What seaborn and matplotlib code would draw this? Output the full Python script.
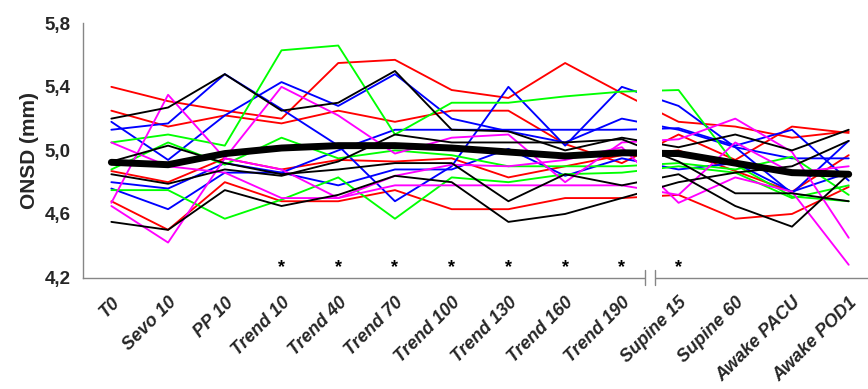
import matplotlib
matplotlib.use('Agg')
import matplotlib.pyplot as plt
import matplotlib.transforms as mtransforms
from matplotlib.patches import Rectangle
from matplotlib.ticker import FixedLocator, FuncFormatter
import seaborn as sns
import pandas as pd

# ── Data (ONSD in mm per time point) ─────────────────────────────────────────
CATEGORIES = ['T0', 'Sevo 10', 'PP 10', 'Trend 10', 'Trend 40', 'Trend 70',
              'Trend 100', 'Trend 130', 'Trend 160', 'Trend 190', 'Supine 15',
              'Supine 60', 'Awake PACU', 'Awake POD1']

RED_1 = [5.40, 5.31, 5.25, 5.20, 5.55, 5.57, 5.38, 5.33, 5.55, 5.36, 5.18, 5.15, 5.08, 5.12]
RED_2 = [5.25, 5.15, 5.22, 5.17, 5.25, 5.18, 5.25, 5.25, 5.04, 4.92, 5.10, 4.94, 5.15, 5.11]
RED_3 = [4.87, 4.80, 4.95, 4.88, 4.94, 4.93, 4.95, 4.83, 4.90, 4.97, 5.00, 4.87, 4.74, 4.97]
RED_4 = [4.68, 4.50, 4.80, 4.68, 4.68, 4.75, 4.63, 4.63, 4.70, 4.70, 4.72, 4.57, 4.60, 4.77]

BLUE_1 = [5.13, 5.17, 5.48, 5.26, 5.03, 4.68, 4.90, 5.40, 5.03, 5.40, 5.28, 5.02, 4.73, 5.06]
BLUE_2 = [5.18, 4.94, 5.22, 5.43, 5.28, 5.48, 5.20, 5.12, 5.05, 5.20, 5.13, 5.02, 4.95, 4.95]
BLUE_3 = [4.80, 4.76, 4.92, 4.86, 5.00, 5.13, 5.13, 5.13, 5.13, 5.13, 5.14, 5.03, 5.13, 4.81]
BLUE_4 = [4.76, 4.63, 4.86, 4.86, 4.78, 4.88, 4.88, 5.01, 4.84, 4.95, 4.88, 4.92, 4.74, 4.86]

GREEN_1 = [5.05, 5.10, 5.03, 5.63, 5.66, 5.10, 5.30, 5.30, 5.34, 5.37, 5.38, 4.91, 4.71, 4.68]
GREEN_2 = [4.88, 5.05, 4.91, 5.08, 4.95, 5.00, 4.97, 4.90, 4.90, 4.90, 4.92, 4.88, 4.96, 4.72]
GREEN_3 = [4.75, 4.75, 4.57, 4.69, 4.83, 4.57, 4.83, 4.80, 4.85, 4.86, 4.90, 4.86, 4.70, 4.78]

MAGENTA_1 = [4.67, 5.35, 4.95, 5.40, 5.22, 4.98, 5.08, 5.10, 4.80, 5.05, 5.07, 5.20, 4.99, 4.45]
MAGENTA_2 = [5.05, 4.90, 4.86, 4.70, 4.70, 4.84, 4.91, 4.90, 4.94, 5.02, 4.67, 4.83, 4.74, 4.28]
MAGENTA_3 = [4.65, 4.42, 4.95, 4.88, 4.70, 4.78, 4.78, 4.78, 4.78, 4.78, 4.72, 5.05, 4.86, 4.90]

BLACK_1 = [5.20, 5.27, 5.48, 5.25, 5.30, 5.50, 5.13, 5.12, 5.00, 5.08, 5.02, 5.10, 5.00, 5.13]
BLACK_2 = [4.85, 4.79, 4.88, 4.84, 4.93, 5.10, 5.05, 5.05, 5.05, 5.07, 4.93, 4.73, 4.73, 4.68]
BLACK_3 = [4.93, 5.03, 4.92, 4.85, 4.88, 4.92, 4.92, 4.68, 4.85, 4.78, 4.85, 4.65, 4.52, 4.85]
BLACK_4 = [4.55, 4.50, 4.75, 4.65, 4.72, 4.84, 4.80, 4.55, 4.60, 4.70, 4.80, 4.86, 4.90, 5.06]

MEAN = [4.925, 4.91, 4.98, 5.015, 5.03, 5.03, 5.015, 4.99, 4.965, 4.985, 4.98, 4.92, 4.86, 4.85]

# time points flagged with an asterisk
SIGNIFICANT = ['Trend 10', 'Trend 40', 'Trend 70', 'Trend 100', 'Trend 130',
               'Trend 160', 'Trend 190', 'Supine 15']

COLORS = {'red': '#FF0000', 'blue': '#0000FF', 'green': '#00FF00',
          'magenta': '#FF00FF', 'black': '#000000'}
AXIS_GREY = '#868686'

subjects = [
    ('red', RED_1), ('red', RED_2), ('red', RED_3), ('red', RED_4),
    ('blue', BLUE_1), ('blue', BLUE_2), ('blue', BLUE_3), ('blue', BLUE_4),
    ('green', GREEN_1), ('green', GREEN_2), ('green', GREEN_3),
    ('magenta', MAGENTA_1), ('magenta', MAGENTA_2), ('magenta', MAGENTA_3),
    ('black', BLACK_1), ('black', BLACK_2), ('black', BLACK_3), ('black', BLACK_4),
]

rows, palette = [], {}
for k, (col, vals) in enumerate(subjects):
    sid = f'S{k:02d}'
    palette[sid] = COLORS[col]
    for i, v in enumerate(vals):
        rows.append({'subject': sid, 'pos': i, 'onsd': v})
df = pd.DataFrame(rows)

sns.set_theme(style='white')
plt.rcParams['font.family'] = ['Liberation Sans', 'DejaVu Sans']

fig = plt.figure(figsize=(8.68, 3.89), dpi=100)
ax = fig.add_axes([83 / 868, 111.5 / 389, 785 / 868, 254.2 / 389])

sns.lineplot(data=df, x='pos', y='onsd', hue='subject', palette=palette,
             estimator=None, sort=False, legend=False, linewidth=1.35, ax=ax)
sns.lineplot(x=list(range(len(CATEGORIES))), y=MEAN, color='black',
             linewidth=5.0, solid_capstyle='round', ax=ax, zorder=3)

ax.set_xlim(-0.5, 13.34)
ax.set_ylim(4.2, 5.8)

# asterisks
for lab in SIGNIFICANT:
    ax.text(CATEGORIES.index(lab), 4.262, '*', ha='center', va='center',
            fontsize=13, fontweight='bold', color='black', zorder=6)

# axis break between Trend 190 and Supine 15
ax.axvspan(9.263, 9.703, ymin=0.006, ymax=1, facecolor='white',
           edgecolor='none', zorder=4)
trans = mtransforms.blended_transform_factory(ax.transData, ax.transAxes)
ax.add_patch(Rectangle((9.41, -0.02), 0.18, 0.04, transform=trans,
                       facecolor='white', edgecolor='none', clip_on=False, zorder=5))
for xb in (9.41, 9.59):
    ax.plot([xb, xb], [-0.03, 0.03], transform=trans, color=AXIS_GREY,
            linewidth=1.0, clip_on=False, zorder=6)

# spines / ticks
for side in ('top', 'right'):
    ax.spines[side].set_visible(False)
for side in ('left', 'bottom'):
    ax.spines[side].set_color(AXIS_GREY)
    ax.spines[side].set_linewidth(1.0)

ax.set_yticks([4.2, 4.6, 5.0, 5.4, 5.8])
ax.yaxis.set_major_formatter(FuncFormatter(lambda v, _: f'{v:.1f}'.replace('.', ',')))
ax.tick_params(axis='y', length=4, width=1.0, color=AXIS_GREY, direction='out',
               pad=5, labelsize=13.5)
for t in ax.get_yticklabels():
    t.set_fontweight('bold')

ax.set_xticks(range(len(CATEGORIES)))
ax.set_xticklabels(CATEGORIES, rotation=45, ha='right', rotation_mode='anchor',
                   fontsize=13, fontweight='bold', fontstyle='italic')
ax.tick_params(axis='x', which='major', length=0, pad=12)
ax.xaxis.set_minor_locator(FixedLocator([i - 0.5 for i in range(14) if i != 10]))
ax.tick_params(axis='x', which='minor', length=5, width=1.0, color=AXIS_GREY,
               direction='out')

ax.set_xlabel('')
ax.set_ylabel('ONSD (mm)', fontsize=15, fontweight='bold', labelpad=4)
ax.grid(False)

fig.savefig('out.png', dpi=100, facecolor='white')
